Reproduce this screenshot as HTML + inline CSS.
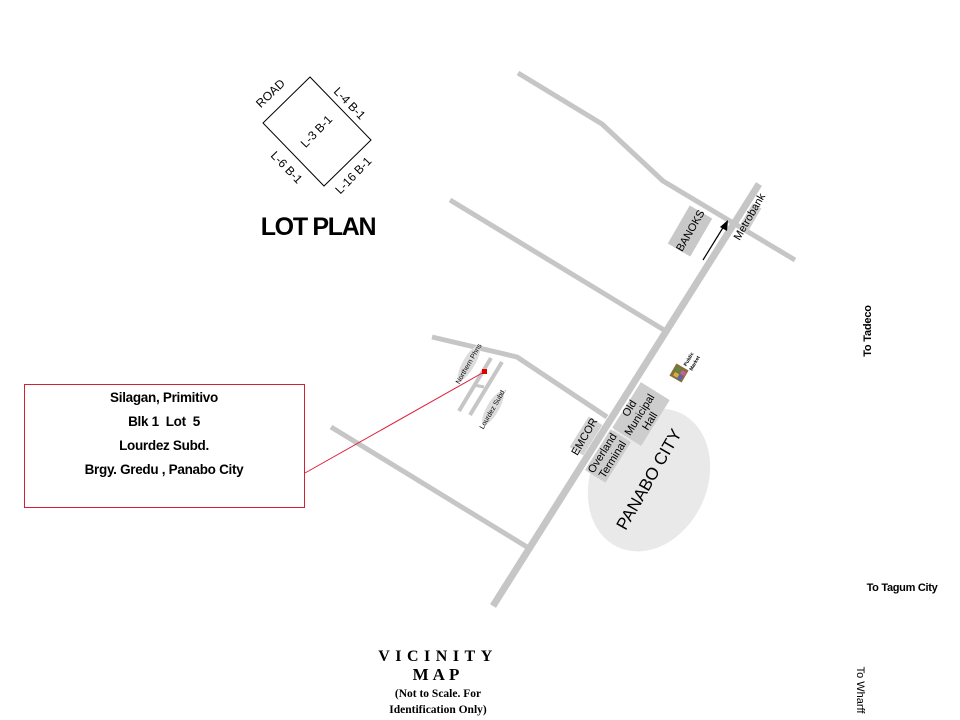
<!DOCTYPE html>
<html><head><meta charset="utf-8"><style>
html,body{margin:0;padding:0;background:#fff;}
svg{display:block;}
text{font-family:"Liberation Sans",Arial,sans-serif;}
</style></head><body>
<svg width="960" height="720" viewBox="0 0 960 720" xmlns="http://www.w3.org/2000/svg">
<rect width="960" height="720" fill="#fff"/>
<!-- Panabo city ellipse -->
<ellipse cx="649" cy="480" rx="58" ry="74" transform="rotate(25 649 480)" fill="#e9e9e9"/>
<!-- roads -->
<g stroke="#c6c6c6" fill="none" stroke-linecap="butt" stroke-linejoin="round">
<polyline points="518,73 602,124 663,181 795,260" stroke-width="5"/>
<line x1="450" y1="200" x2="664" y2="330" stroke-width="5"/>
<line x1="331" y1="427" x2="527" y2="547" stroke-width="5"/>
<polyline points="432,337 517,357 607,417" stroke-width="5"/>
<line x1="493" y1="606" x2="759" y2="184" stroke-width="7"/>
<line x1="491" y1="358" x2="459" y2="411" stroke-width="4"/>
<line x1="502" y1="362" x2="470" y2="415" stroke-width="4"/>
<line x1="474" y1="385" x2="484" y2="387" stroke-width="3"/>
</g>
<!-- label ellipses -->
<ellipse cx="469" cy="363" rx="20" ry="6" transform="rotate(-60 469 363)" fill="#dcdcdc"/>
<ellipse cx="493" cy="408" rx="19" ry="6" transform="rotate(-60 493 408)" fill="#dcdcdc"/>
<!-- gray rects -->
<rect x="-22" y="-13" width="44" height="26" transform="translate(690 231) rotate(-60)" fill="#c8c8c8"/>
<rect x="-14" y="-5" width="28" height="10" transform="translate(750 218) rotate(-60)" fill="#cfcfcf"/>
<rect x="-27" y="-17" width="54" height="34" transform="translate(641 414) rotate(-58)" fill="#cdcdcd"/>
<rect x="-24" y="-12" width="48" height="24" transform="translate(608 456) rotate(-58)" fill="#cdcdcd"/>
<rect x="-18" y="-8" width="36" height="16" transform="translate(586 436) rotate(-58)" fill="#d3d3d3"/>
<!-- public market icon -->
<g transform="translate(679 373) rotate(30)">
<rect x="-7" y="-7" width="14" height="14" fill="#8a6b3a"/>
<rect x="-5" y="-5" width="5" height="5" fill="#5a8a3a"/>
<rect x="1" y="-4" width="5" height="4" fill="#c060a0"/>
<rect x="-4" y="1" width="5" height="4" fill="#d0b040"/>
<rect x="1" y="1" width="4" height="5" fill="#6060b0"/>
</g>
<text transform="translate(690 360) rotate(-60)" font-size="5" font-weight="bold" text-anchor="middle">Public</text>
<text transform="translate(696 364) rotate(-60)" font-size="5" font-weight="bold" text-anchor="middle">Market</text>
<!-- arrow -->
<line x1="703" y1="260" x2="724" y2="226" stroke="#000" stroke-width="1.2"/>
<polygon points="728,220 727,231 720,227" fill="#000"/>
<!-- red box & line -->
<line x1="305" y1="473" x2="484" y2="372" stroke="#e0203a" stroke-width="1"/>
<rect x="482" y="369" width="5" height="5" fill="#e00000"/>
<rect x="24.5" y="384.5" width="280" height="123" fill="none" stroke="#d42036" stroke-width="1"/>
<g font-size="13.5" font-weight="bold" text-anchor="middle" letter-spacing="-0.3">
<text x="164" y="402">Silagan, Primitivo</text>
<text x="164" y="426">Blk 1&#160; Lot&#160; 5</text>
<text x="164" y="450">Lourdez Subd.</text>
<text x="164" y="474">Brgy. Gredu , Panabo City</text>
</g>
<!-- map labels -->
<text transform="translate(469 364) rotate(-60)" font-size="7" text-anchor="middle" dominant-baseline="middle">Northern Phns</text>
<text transform="translate(493 409) rotate(-60)" font-size="7" text-anchor="middle" dominant-baseline="middle">Lourdez Subd.</text>
<text transform="translate(691 231) rotate(-60)" font-size="11" text-anchor="middle" dominant-baseline="middle">BANOKS</text>
<text transform="translate(750 217) rotate(-60)" font-size="11" text-anchor="middle" dominant-baseline="middle">Metrobank</text>
<text transform="translate(585 437) rotate(-60)" font-size="11" text-anchor="middle" dominant-baseline="middle">EMCOR</text>
<g transform="translate(640 415) rotate(-58)" font-size="11" text-anchor="middle">
<text x="0" y="-9">Old</text>
<text x="0" y="3">Municipal</text>
<text x="0" y="15">Hall</text>
</g>
<g transform="translate(607 456) rotate(-58)" font-size="11" text-anchor="middle">
<text x="0" y="-2">Overland</text>
<text x="0" y="10">Terminal</text>
</g>
<text transform="translate(650 480) rotate(-60)" font-size="17" text-anchor="middle" dominant-baseline="middle">PANABO CITY</text>
<!-- lot plan -->
<polygon points="310,77 263,123 324,186 371,140" fill="none" stroke="#000" stroke-width="1"/>
<text transform="translate(271 94) rotate(-44)" font-size="12" text-anchor="middle" dominant-baseline="middle">ROAD</text>
<text transform="translate(349 104) rotate(46)" font-size="12" text-anchor="middle" dominant-baseline="middle">L-4 B-1</text>
<text transform="translate(317 132) rotate(-46)" font-size="12" text-anchor="middle" dominant-baseline="middle">L-3 B-1</text>
<text transform="translate(286 168) rotate(46)" font-size="12" text-anchor="middle" dominant-baseline="middle">L-6 B-1</text>
<text transform="translate(354 176) rotate(-46)" font-size="12" text-anchor="middle" dominant-baseline="middle">L-16 B-1</text>
<text x="318" y="235" font-size="25" font-weight="bold" text-anchor="middle" letter-spacing="-1.3">LOT PLAN</text>
<!-- vicinity -->
<g font-weight="bold" text-anchor="middle">
<text x="438" y="661" font-size="16" letter-spacing="5.5" style="font-family:'Liberation Serif',serif">VICINITY</text>
<text x="438" y="680" font-size="17" letter-spacing="4" style="font-family:'Liberation Serif',serif">MAP</text>
<text x="438" y="697" font-size="11.5" letter-spacing="0" style="font-family:'Liberation Serif',serif">(Not to Scale. For</text>
<text x="438" y="713" font-size="11.5" letter-spacing="0" style="font-family:'Liberation Serif',serif">Identification Only)</text>
</g>
<!-- directions -->
<text transform="translate(871 331) rotate(-90)" font-size="11" font-weight="bold" text-anchor="middle" letter-spacing="-0.2">To Tadeco</text>
<text x="902" y="591" font-size="11" font-weight="bold" text-anchor="middle" letter-spacing="-0.3">To Tagum City</text>
<text transform="translate(857 690) rotate(90)" font-size="11" text-anchor="middle">To Wharff</text>
</svg>
</body></html>
